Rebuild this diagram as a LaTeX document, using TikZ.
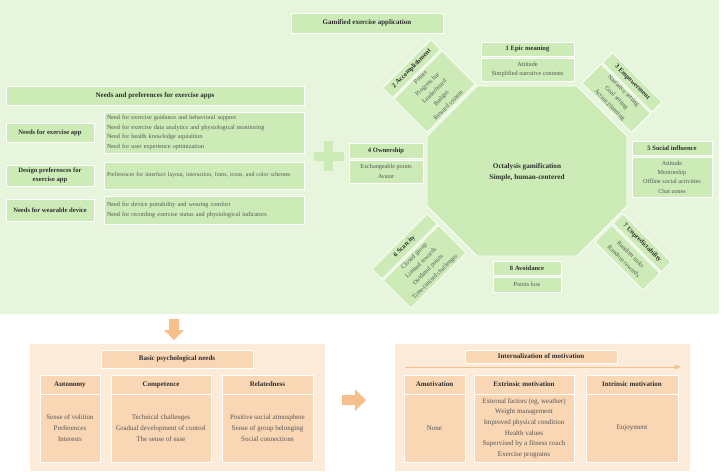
\documentclass[tikz,border=0pt]{standalone}
\usepackage{fontspec}
\setmainfont{Liberation Serif}
\usetikzlibrary{arrows.meta}
\definecolor{bggreen}{HTML}{E6F5DB}
\definecolor{boxgreen}{HTML}{CCEBB7}
\definecolor{peachbg}{HTML}{FDEBDA}
\definecolor{peachbox}{HTML}{F9D6B4}
\definecolor{orangeA}{HTML}{F6C08C}
\definecolor{txtdark}{HTML}{2E2E2E}
\definecolor{txtgray}{HTML}{555555}
\begin{document}
\begin{tikzpicture}[x=1pt,y=-1pt,
  gbox/.style={draw=white, line width=0.8pt, fill=boxgreen, inner sep=0pt, align=center, text=txtgray, font=\fontsize{6.2}{9.4}\selectfont},
  ghead/.style={gbox, text=txtdark, font=\fontsize{6.6}{9.5}\selectfont\bfseries},
  gtitle/.style={gbox, text=txtdark, font=\fontsize{7}{9.5}\selectfont\bfseries},
  gdesc/.style={gbox, text width=194pt, align=left},
  rdesc/.style={gbox, font=\fontsize{6.3}{9.8}\selectfont},
  pbox/.style={draw=white, line width=0.8pt, fill=peachbox, inner sep=0pt, align=center, text=txtgray, font=\fontsize{7}{10.6}\selectfont},
  phead/.style={pbox, text=txtdark, font=\fontsize{7}{10.6}\selectfont\bfseries},
  arrowshape/.style={fill=orangeA, draw=none},
]
\useasboundingbox (0,0) rectangle (725,471);
% panels
\fill[bggreen] (0,0) rectangle (719,314);
\fill[peachbg] (30,344) rectangle (325,471);
\fill[peachbg] (395,344) rectangle (690,471);

% title
\node[gtitle, minimum width=152pt, minimum height=20pt] (title) at (367,23) {Gamified exercise application};

% needs panel
\node[gtitle, minimum width=298pt, minimum height=19pt] (needs) at (155,95.5) {Needs and preferences for exercise apps};
\node[ghead, minimum width=88pt, minimum height=19pt] (l1) at (50,132.5) {Needs for exercise app};
\node[gdesc, minimum width=200pt, minimum height=41pt] (d1) at (204,132.5) {Need for exercise guidance and behavioral support\\Need for exercise data analytics and physiological monitoring\\Need for health knowledge aquisition\\Need for user experience optimization};
\node[ghead, minimum width=88pt, minimum height=21pt] (l2) at (50,175.5) {Design preferences for\\exercise app};
\node[gdesc, minimum width=200pt, minimum height=27pt, font=\fontsize{5.9}{9.4}\selectfont] (d2) at (204,175.5) {Preferences for interface layout, interaction, fonts, icons, and color schemes};
\node[ghead, minimum width=88pt, minimum height=22pt] (l3) at (50,210) {Needs for wearable device};
\node[gdesc, minimum width=200pt, minimum height=28pt] (d3) at (204,210) {Need for device portability and wearing comfort\\Need for recording exercise status and physiological indicators};

% plus
\fill[boxgreen] (324,141) rectangle (333,171);
\fill[boxgreen] (314,152) rectangle (344,161);

% octagon
\draw[draw=white, line width=0.8pt, fill=boxgreen] (477,86) -- (577,86) -- (627,136) -- (627,206) -- (577,256) -- (477,256) -- (427,206) -- (427,136) -- cycle;
\node[ghead, fill=none, draw=none, font=\fontsize{7.2}{11}\selectfont\bfseries] (oct) at (527,172) {Octalysis gamification\\Simple, human-centered};

% 1 epic meaning
\node[ghead, minimum width=93pt, minimum height=14pt] (epich) at (527.5,49) {1 Epic meaning};
\node[gbox, minimum width=93pt, minimum height=23pt] (epicd) at (527.5,69.5) {Attitude\\Simplified narrative contents};

% 4 ownership
\node[ghead, minimum width=74pt, minimum height=15pt] (ownh) at (386,150.5) {4 Ownership};
\node[gbox, minimum width=74pt, minimum height=23pt] (ownd) at (386,171.5) {Exchangeable points\\Avatar};

% 5 social influence
\node[ghead, minimum width=80pt, minimum height=14pt] (soch) at (672,148) {5 Social influence};
\node[gbox, minimum width=80pt, minimum height=40pt] (socd) at (672,177) {Attitude\\Mentorship\\Offline social activities\\Chat zones};

% 8 avoidance
\node[ghead, minimum width=68pt, minimum height=14pt] (avoh) at (527,268) {8 Avoidance};
\node[gbox, minimum width=68pt, minimum height=15pt] (avod) at (527,284.5) {Points loss};

% 2 accomplishment
\begin{scope}[shift={(429,86)}, rotate=45, transform shape]
  \node[ghead, minimum width=68pt, minimum height=14pt] (acch) at (0,-24.5) {2 Accomplishment};
  \node[rdesc, minimum width=68pt, minimum height=47pt] (accd) at (0,8) {Points\\Progress bar\\Leaderboard\\Badges\\Reward system};
\end{scope}

% 3 empowerment
\begin{scope}[shift={(622,92.5)}, rotate=-45, transform shape]
  \node[ghead, minimum width=70pt, minimum height=14pt] (emph) at (0,-14.5) {3 Empowerment};
  \node[rdesc, minimum width=70pt, minimum height=27pt] (empd) at (0,8) {Narrative setting\\Goal setting\\Action planning};
\end{scope}

% 6 scarcity
\begin{scope}[shift={(419,261)}, rotate=45, transform shape]
  \node[ghead, minimum width=78pt, minimum height=14pt] (scah) at (0,-20.5) {6 Scarcity};
  \node[rdesc, minimum width=78pt, minimum height=39pt] (scad) at (0,8) {Closed group\\Limited rewards\\Outdated points\\Time-limited challenges};
\end{scope}

% 7 unpredictability
\begin{scope}[shift={(633,252)}, rotate=-45, transform shape]
  \node[ghead, minimum width=68pt, minimum height=14pt] (unph) at (0,-13) {7 Unpredictability};
  \node[rdesc, minimum width=68pt, minimum height=24pt] (unpd) at (0,8) {Random tasks\\Random rewards};
\end{scope}

% arrows between panels
\fill[arrowshape] (169,319) -- (179,319) -- (179,330) -- (184,330) -- (174,340) -- (164,330) -- (169,330) -- cycle;
\fill[arrowshape] (342,395) -- (355,395) -- (355,389) -- (366,400) -- (355,411) -- (355,405) -- (342,405) -- cycle;

% basic psychological needs
\node[phead, minimum width=152pt, minimum height=18pt] (bpn) at (177,359) {Basic psychological needs};
\node[phead, minimum width=60pt, minimum height=19pt] (auth) at (70,384.5) {Autonomy};
\node[pbox, minimum width=60pt, minimum height=68pt] (autd) at (70,428) {Sense of volition\\Preferences\\Interests};
\node[phead, minimum width=100pt, minimum height=19pt] (comh) at (161,384.5) {Competence};
\node[pbox, minimum width=100pt, minimum height=68pt] (comd) at (161,428) {Technical challenges\\Gradual development of control\\The sense of ease};
\node[phead, minimum width=91pt, minimum height=19pt] (relh) at (267.5,384.5) {Relatedness};
\node[pbox, minimum width=91pt, minimum height=68pt] (reld) at (267.5,428) {Positive social atmosphere\\Sense of group belonging\\Social connections};

% internalization of motivation
\node[phead, minimum width=152pt, minimum height=13pt] (iom) at (541,356.5) {Internalization of motivation};
\coordinate (arrA) at (405,367);
\coordinate (arrB) at (681,367);
\draw[orangeA, line width=0.8pt, -{Triangle[length=6pt,width=5pt]}] (arrA) -- (arrB);
\node[phead, minimum width=61pt, minimum height=19pt] (amoh) at (434.5,384.5) {Amotivation};
\node[pbox, minimum width=61pt, minimum height=68pt] (amod) at (434.5,428) {None};
\node[phead, minimum width=100pt, minimum height=19pt] (exth) at (524,384.5) {Extrinsic motivation};
\node[pbox, minimum width=100pt, minimum height=68pt] (extd) at (524,428) {External factors (eg, weather)\\Weight management\\Improved physical condition\\Health values\\Supervised by a fitness coach\\Exercise programs};
\node[phead, minimum width=92pt, minimum height=19pt] (inth) at (632,384.5) {Intrinsic motivation};
\node[pbox, minimum width=92pt, minimum height=68pt] (intd) at (632,428) {Enjoyment};
\end{tikzpicture}
\end{document}
